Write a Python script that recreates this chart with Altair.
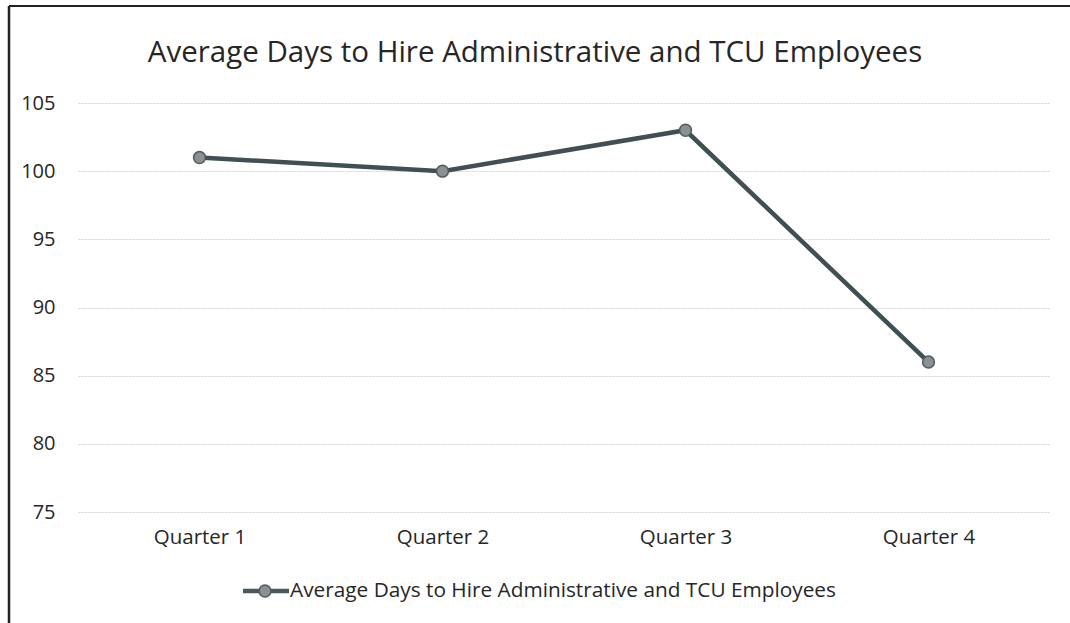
import altair as alt
import pandas as pd

quarters = ["Quarter 1", "Quarter 2", "Quarter 3", "Quarter 4"]
days = [101, 100, 103, 86]
series_name = "Average Days to Hire Administrative and TCU Employees"
chart_title = "Average Days to Hire Administrative and TCU Employees"
y_ticks = [75, 80, 85, 90, 95, 100, 105]

df = pd.DataFrame({"Quarter": quarters, "Days": days})
FONT = "Open Sans"

x = alt.X("Quarter:N", sort=quarters, scale=alt.Scale(paddingInner=0, paddingOuter=0, align=0.5),
          axis=alt.Axis(title=None, labelAngle=0, ticks=False, domain=False, grid=False,
                        labelPadding=15, labelFontSize=20.5, labelColor="#262626", labelFont=FONT))
y = alt.Y("Days:Q", scale=alt.Scale(domain=[75, 105], nice=False, zero=False),
          axis=alt.Axis(title=None, values=y_ticks, ticks=False, domain=False,
                        labelPadding=23, labelFontSize=20, labelColor="#262626", labelFont=FONT,
                        gridColor="#d4d4d4", gridWidth=1, gridDash=[2, 1]))

line = alt.Chart(df).mark_line(color="#3f4f53", strokeWidth=4.5).encode(x=x, y=y)
pts = alt.Chart(df).mark_point(filled=True, size=140, color="#8b9093", stroke="#545a5c",
                                strokeWidth=1.5, opacity=1).encode(x=x, y=y)

leg_df = pd.DataFrame({"label": [series_name], "title": [chart_title]})
leg_line = alt.Chart(leg_df).mark_rule(color="#4a585c", strokeWidth=4.5).encode(
    x=alt.value(165), x2=alt.value(211), y=alt.value(488))
leg_pt = alt.Chart(leg_df).mark_point(filled=True, size=140, color="#8b9093", stroke="#545a5c",
                                       strokeWidth=1.5, opacity=1).encode(
    x=alt.value(187), y=alt.value(488))
leg_txt = alt.Chart(leg_df).mark_text(align="left", baseline="middle", fontSize=20.8, font=FONT,
                                       color="#262626").encode(
    x=alt.value(212), y=alt.value(488), text="label:N")
title_txt = alt.Chart(leg_df).mark_text(align="center", baseline="alphabetic", fontSize=29.5,
                                         font=FONT, color="#262626").encode(
    x=alt.value(457), y=alt.value(-41), text="title:N")

top_border = alt.Chart(leg_df).mark_rule(color="#222222", strokeWidth=2).encode(
    x=alt.value(-69), x2=alt.value(1000), y=alt.value(-97))
left_border = alt.Chart(leg_df).mark_rule(color="#222222", strokeWidth=2.5).encode(
    x=alt.value(-69), y=alt.value(-97), y2=alt.value(530))

chart = alt.layer(top_border, left_border, line, pts, leg_line, leg_pt, leg_txt, title_txt).properties(
    width=972, height=409,
    background="white",
    autosize=alt.AutoSizeParams(type="none"),
    padding={"left": 78, "top": 103, "right": 20, "bottom": 111},
).configure_view(strokeWidth=0, stroke="transparent")

chart.save("out.html", embed_options={"renderer": "svg", "actions": False})
